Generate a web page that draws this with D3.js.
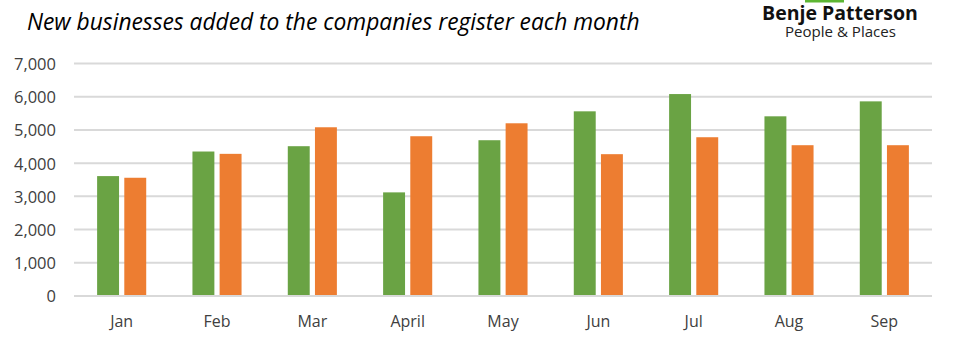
<!DOCTYPE html>
<html><head><meta charset="utf-8">
<script src="https://cdn.jsdelivr.net/npm/d3@7"></script>
<style>body{margin:0;background:#fff}svg{display:block}</style>
</head><body>
<svg id="c" width="955" height="350"></svg>
<script>
const months = ["Jan","Feb","Mar","April","May","Jun","Jul","Aug","Sep"];
const seriesA = [3610,4350,4510,3120,4690,5560,6080,5410,5860];
const seriesB = [3560,4280,5080,4810,5200,4270,4780,4540,4540];
const yTicks = [0,1000,2000,3000,4000,5000,6000,7000];
const colors = ["#6AA344","#ED7D31"];

const svg = d3.select("#c");
const m = {left:74, right:23, top:63.5, bottom:54};
const W = 955, H = 350;
const FONT = "'Open Sans', sans-serif";
const x = d3.scaleBand().domain(months).range([m.left, W-m.right]).padding(0);
const y = d3.scaleLinear().domain([0,7000]).range([H-m.bottom, m.top]);

// gridlines
svg.append("g").selectAll("line").data(yTicks).join("line")
  .attr("x1", m.left).attr("x2", W-m.right)
  .attr("y1", d=>y(d)).attr("y2", d=>y(d))
  .attr("stroke","#D9D9D9").attr("stroke-width",2);

// y labels
const yAxis = d3.axisLeft(y).tickValues(yTicks).tickSize(0).tickPadding(0).tickFormat(d3.format(","));
const ga = svg.append("g").attr("transform",`translate(${m.left-18},0)`).call(yAxis);
ga.select(".domain").remove();
ga.selectAll("text").attr("font-family",FONT).attr("font-size",16.5).attr("fill","#404040").attr("dy","0.36em");

// x labels
const xAxis = d3.axisBottom(x).tickSize(0).tickPadding(0);
const gx = svg.append("g").attr("transform",`translate(0,${H-m.bottom})`).call(xAxis);
gx.select(".domain").remove();
gx.selectAll("text").attr("font-family",FONT).attr("font-size",16).attr("fill","#404040").attr("dy","0").attr("y",31);

const bw = x.bandwidth()*0.23, gap = x.bandwidth()*0.055;
const bars = svg.append("g");
[seriesA, seriesB].forEach((s,si)=>{
  bars.append("g").selectAll("rect").data(s).join("rect")
    .attr("x",(d,i)=> x(months[i]) + x.bandwidth()/2 + (si===0 ? -gap/2-bw : gap/2))
    .attr("width",bw)
    .attr("y",d=>y(d)).attr("height",d=>y(0)-y(d)-1)
    .attr("fill",colors[si]);
});

// title
const t = svg.append("text").attr("x",27).attr("y",30)
  .attr("font-family",FONT).attr("font-style","italic")
  .attr("font-size",22).attr("fill","#000")
  .text("New businesses added to the companies register each month");
const tl = t.node().getComputedTextLength();
t.attr("font-size", 22*613/tl);

// logo
svg.append("rect").attr("x",805).attr("y",0).attr("width",39).attr("height",2.5).attr("fill","#5DB633");
const l1 = svg.append("text").attr("x",840).attr("y",20).attr("text-anchor","middle")
  .attr("font-family",FONT).attr("font-weight","bold").attr("font-size",18).attr("fill","#111")
  .text("Benje Patterson");
const w1 = l1.node().getComputedTextLength(); l1.attr("font-size",18*156/w1);
const l2 = svg.append("text").attr("x",840.5).attr("y",36.5).attr("text-anchor","middle")
  .attr("font-family",FONT).attr("font-size",13).attr("fill","#222")
  .text("People & Places");
const w2 = l2.node().getComputedTextLength(); l2.attr("font-size",13*111/w2);
</script>
</body></html>
